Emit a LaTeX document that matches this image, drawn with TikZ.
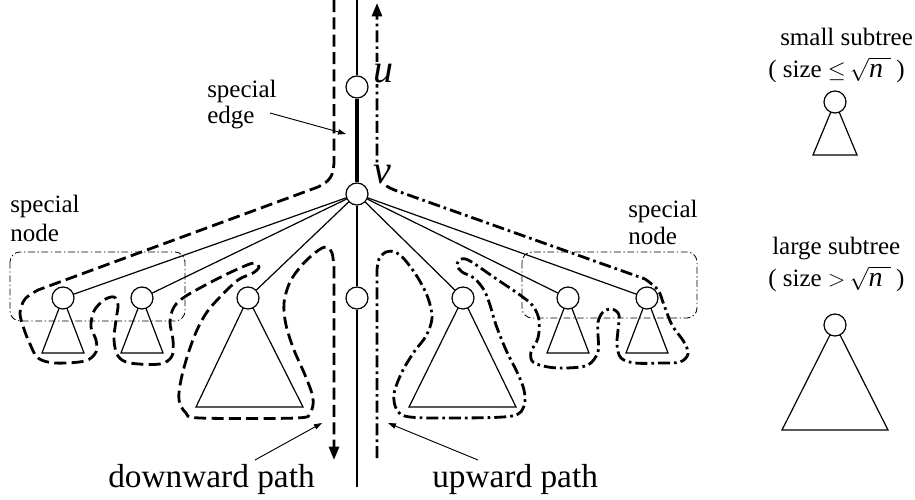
\documentclass[tikz,border=0pt]{standalone}
\usepackage{fontspec}
\setmainfont{Liberation Serif}
\usetikzlibrary{arrows.meta}
\tikzset{
  tnode/.style={circle, draw, fill=white, minimum size=16.5pt, inner sep=0pt, line width=0.9pt},
  tedge/.style={line width=0.9pt},
  spedge/.style={line width=3.6pt},
  tri/.style={line width=0.9pt},
  downpath/.style={line width=2.1pt, dash pattern=on 9pt off 4pt, -{Triangle[length=10pt,width=7.5pt]}},
  uppath/.style={line width=2.1pt, dash pattern=on 9pt off 3pt on 2pt off 3pt, -{Triangle[length=10pt,width=7.5pt]}},
  sbox/.style={line width=0.6pt, dash pattern=on 5pt off 2pt on 1pt off 2pt, rounded corners=7.5pt},
  ann/.style={line width=0.7pt, -{Triangle[length=6pt,width=4pt]}},
  lbl/.style={font=\fontsize{18.75}{22}\selectfont, inner sep=0pt, anchor=base west},
  biglbl/.style={font=\fontsize{25}{30}\selectfont, inner sep=0pt, anchor=base west},
  ital/.style={font=\fontsize{30}{32}\selectfont\itshape, inner sep=1pt, fill=white, anchor=base west}
}
\newcommand{\sqn}{$\sqrt{\mbox{\fontsize{21}{21}\selectfont\itshape n}\hspace{6pt}}$}
\begin{document}
\begin{tikzpicture}[x=0.75pt,y=-0.75pt]
\useasboundingbox (0,0) rectangle (915,500);

% centres
\coordinate (cL1) at (63,298);
\coordinate (cL2) at (142,298);
\coordinate (cL3) at (248,298);
\coordinate (cM) at (357,298);
\coordinate (cR3) at (463,298);
\coordinate (cR2) at (568,298);
\coordinate (cR1) at (647,298);
\coordinate (cS) at (835,102);
\coordinate (cB) at (835,325);
\coordinate (top) at (357,0);
\coordinate (bot) at (357,487);

% special node boxes
\draw[sbox] (10,252) rectangle (185,321);
\draw[sbox] (522,252) rectangle (697,318);

% subtrees
\draw[tri] (cL1) -- (42,353) -- (84,353) -- cycle;
\draw[tri] (cL2) -- (121,353) -- (163,353) -- cycle;
\draw[tri] (cL3) -- (196,407) -- (303,407) -- cycle;
\draw[tri] (cR3) -- (409,407) -- (516,407) -- cycle;
\draw[tri] (cR2) -- (547,353) -- (589,353) -- cycle;
\draw[tri] (cR1) -- (626,353) -- (668,353) -- cycle;
\draw[tri] (cS) -- (813,155) -- (857,155) -- cycle;
\draw[tri] (cB) -- (782,430) -- (888,430) -- cycle;

% nodes
\node[tnode] (u) at (357,87) {};
\node[tnode] (v) at (357,194) {};
\node[tnode] (L1) at (cL1) {};
\node[tnode] (L2) at (cL2) {};
\node[tnode] (L3) at (cL3) {};
\node[tnode] (M) at (cM) {};
\node[tnode] (R3) at (cR3) {};
\node[tnode] (R2) at (cR2) {};
\node[tnode] (R1) at (cR1) {};
\node[tnode] (S) at (cS) {};
\node[tnode] (B) at (cB) {};

% tree edges
\draw[tedge] (top) -- (u);
\draw[spedge] (u) -- (v);
\draw[tedge] (v) -- (M) (M) -- (bot);
\foreach \n in {L1,L2,L3,R3,R2,R1} \draw[tedge] (v) -- (\n);

% downward path
\draw[downpath] (334,0) -- (334,160) .. controls (334,176) and (330,181) .. (318,187)
  -- plot[smooth,tension=0.55] coordinates {(38,290) (25,299) (20,313) (24,329) (30,344) (38,358) (55,363) (85,361) (96,352) (96,340) (91,327) (94,311) (104,300) (114,297) (118,305) (116,320) (114,340) (118,356) (130,363) (160,364) (172,356) (173,340) (170,322) (174,307) (186,296) (215,280) (240,268) (254,263) (259,267) (253,273) (238,280) (220,297) (207,312) (197,330) (188,354) (181,380) (179,400) (186,413) (200,418) (296,418) (310,413) (313,398) (305,375) (294,350) (286,325) (284,303) (290,282) (302,265) (316,252) (326,247) (332,253) (334,268)}
  -- (334,460);

% upward path
\draw[uppath] (377,458) -- (377,272)
  -- plot[smooth,tension=0.55] coordinates {(377,270) (379,259) (386,252) (395,252) (405,260) (418,278) (428,298) (432,318) (426,336) (414,352) (402,372) (394,394) (397,410) (410,417) (460,418) (512,416) (524,406) (524,390) (517,372) (506,350) (496,325) (490,305) (484,290) (474,278) (462,272) (457,265) (461,259) (470,261) (495,278) (520,295) (533,306) (539,320) (538,338) (531,352) (533,362) (548,367) (567,368) (588,365) (598,352) (598,335) (598,322) (603,312) (612,309) (619,315) (618,330) (617,345) (621,358) (635,363) (660,363) (680,362) (688,354) (684,342) (672,325) (664,305) (658,290) (645,279)}
  -- (400,192) .. controls (385,187) and (377,182) .. (377,165) -- (377,3);

% u, v labels
\node[ital] (ul) at (372,82) {u};
\node[ital] (vl) at (372,183) {v};

% special edge label
\node[lbl] (se1) at (207,97) {special};
\node[lbl] (se2) at (207,123) {edge};
\coordinate (seA) at (270,113);
\coordinate (seB) at (346,134);
\draw[ann] (seA) -- (seB);

% special node labels
\node[lbl] (sl1) at (10,212) {special};
\node[lbl] (sl2) at (10,241) {node};
\node[lbl] (sr1) at (628,217) {special};
\node[lbl] (sr2) at (628,244) {node};

% legend
\node[lbl] (lg1) at (780,45) {small subtree};
\node[lbl] (lg2) at (768,77) {( size $\leq$\hspace{3pt}\sqn\hspace{4pt})};
\node[lbl] (lg3) at (772,254) {large subtree};
\node[lbl] (lg4) at (768,286) {( size $>$\hspace{3pt}\sqn\hspace{4pt})};

% bottom labels
\node[biglbl] (dl) at (108,487) {downward path};
\node[biglbl] (ulb) at (432,487) {upward path};
\coordinate (dA) at (255,460);
\coordinate (dB) at (322,423);
\coordinate (uA) at (478,460);
\coordinate (uB) at (388,423);
\draw[ann] (dA) -- (dB);
\draw[ann] (uA) -- (uB);
\end{tikzpicture}
\end{document}
